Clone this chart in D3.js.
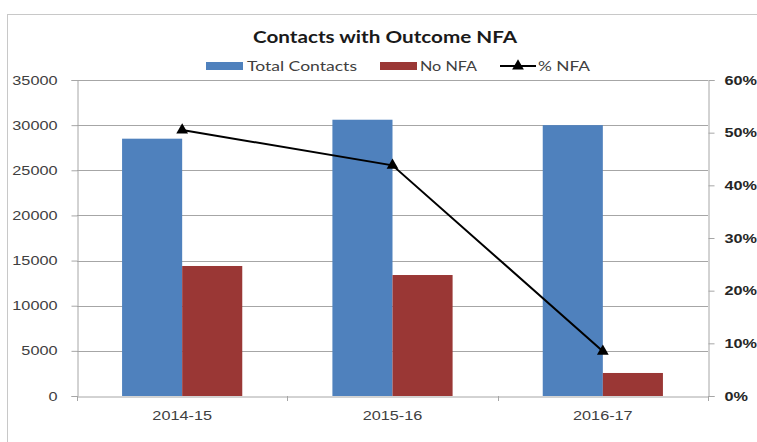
<!DOCTYPE html>
<html>
<head>
<meta charset="utf-8">
<script src="https://cdn.jsdelivr.net/npm/d3@7/dist/d3.min.js"></script>
<style>
  html, body { margin: 0; padding: 0; background: #fff; }
  svg { display: block; font-family: Lato, "Open Sans", sans-serif; }
</style>
</head>
<body>
<svg id="chart" width="757" height="442"></svg>
<script>
// Contacts per year, with those closed as No Further Action
const years = ["2014-15", "2015-16", "2016-17"];
const totalContacts = [28500, 30600, 30000];
const noNFA = [14400, 13400, 2550];
const pctNFA = [0.505, 0.438, 0.085];
const leftTicks = [0, 5000, 10000, 15000, 20000, 25000, 30000, 35000];
const rightTicks = [0, 0.1, 0.2, 0.3, 0.4, 0.5, 0.6];

const colors = { total: "#4f81bd", nfa: "#9a3735", line: "#000" };
const WIDE = 1.3; // horizontal widening applied to labels

// widen each text horizontally while keeping its anchor point
function widen(sel, k) {
  sel.each(function () {
    const w = this.getComputedTextLength();
    d3.select(this).attr("textLength", w * k).attr("lengthAdjust", "spacingAndGlyphs");
  });
}

const svg = d3.select("#chart");
const plot = { left: 77, right: 708, top: 80, bottom: 396 };

// outer chart frame
svg.append("rect")
  .attr("x", 7.5).attr("y", 14.5)
  .attr("width", 760).attr("height", 440)
  .attr("fill", "none").attr("stroke", "#c8c8c8").attr("stroke-width", 1);

const x = d3.scaleBand()
  .domain(years)
  .range([plot.left, plot.right])
  .paddingInner(90 / 210)
  .paddingOuter(45 / 210);

const xSeries = d3.scaleBand()
  .domain(["total", "nfa"])
  .range([0, x.bandwidth()]);

const yLeft = d3.scaleLinear().domain([0, 35000]).range([plot.bottom, plot.top]);
const yRight = d3.scaleLinear().domain([0, 0.6]).range([plot.bottom, plot.top]);

// horizontal gridlines
svg.append("g")
  .selectAll("line")
  .data(leftTicks.filter(d => d > 0))
  .join("line")
  .attr("x1", plot.left).attr("x2", plot.right)
  .attr("y1", d => Math.round(yLeft(d)) + 0.5)
  .attr("y2", d => Math.round(yLeft(d)) + 0.5)
  .attr("stroke", "#a6a6a6").attr("stroke-width", 1);

// left axis
const gL = svg.append("g")
  .attr("transform", `translate(${plot.left + 0.5},0)`)
  .call(d3.axisLeft(yLeft).tickValues(leftTicks).tickSize(6).tickPadding(14).tickFormat(d3.format("d")));
gL.select(".domain").attr("stroke", "#a6a6a6");
gL.selectAll(".tick line").attr("stroke", "#a6a6a6");
gL.selectAll(".tick text").attr("fill", "#404040").style("font-size", "12.5px").call(widen, WIDE);

// right axis
const gR = svg.append("g")
  .attr("transform", `translate(${plot.right + 0.5},0)`)
  .call(d3.axisRight(yRight).tickValues(rightTicks).tickSize(6).tickPadding(10).tickFormat(d3.format(".0%")));
gR.select(".domain").attr("stroke", "#a6a6a6");
gR.selectAll(".tick line").attr("stroke", "#a6a6a6");
gR.selectAll(".tick text").attr("fill", "#262626").style("font-size", "12.5px").style("font-weight", "bold").call(widen, WIDE);

// bars
const groups = svg.append("g")
  .selectAll("g")
  .data(years.map((y, i) => ({ year: y, total: totalContacts[i], nfa: noNFA[i] })))
  .join("g")
  .attr("transform", d => `translate(${x(d.year)},0)`);

groups.selectAll("rect")
  .data(d => [{ key: "total", v: d.total }, { key: "nfa", v: d.nfa }])
  .join("rect")
  .attr("x", d => xSeries(d.key))
  .attr("width", xSeries.bandwidth())
  .attr("y", d => yLeft(d.v))
  .attr("height", d => yLeft(0) - yLeft(d.v))
  .attr("fill", d => colors[d.key]);

// category axis
const gX = svg.append("g")
  .attr("transform", `translate(0,${plot.bottom + 0.5})`)
  .call(d3.axisBottom(x).tickSize(0).tickPadding(15));
gX.select(".domain").attr("stroke", "#a6a6a6");
gX.selectAll(".tick text").attr("fill", "#404040").style("font-size", "12.5px").call(widen, WIDE);
// boundary ticks between categories
const step = x.step();
svg.append("g").selectAll("line")
  .data(d3.range(0, years.length + 1))
  .join("line")
  .attr("x1", i => Math.round(plot.left + i * step) + 0.5)
  .attr("x2", i => Math.round(plot.left + i * step) + 0.5)
  .attr("y1", plot.bottom).attr("y2", plot.bottom + 5)
  .attr("stroke", "#a6a6a6");

// % NFA line
const cx = (d, i) => x(years[i]) + x.bandwidth() / 2;
svg.append("path")
  .datum(pctNFA)
  .attr("d", d3.line().x(cx).y(d => yRight(d)))
  .attr("fill", "none").attr("stroke", colors.line).attr("stroke-width", 2);

const tri = d3.symbol().type(d3.symbolTriangle).size(60);
svg.append("g").selectAll("path")
  .data(pctNFA)
  .join("path")
  .attr("d", tri)
  .attr("transform", (d, i) => `translate(${cx(d, i)},${yRight(d)})`)
  .attr("fill", colors.line);

// title
svg.append("text")
  .attr("x", 385).attr("y", 43)
  .attr("text-anchor", "middle")
  .style("font-size", "17.5px").style("font-weight", "bold")
  .attr("fill", "#1a1a1a")
  .attr("textLength", 264).attr("lengthAdjust", "spacingAndGlyphs")
  .text("Contacts with Outcome NFA");

// legend
const legend = svg.append("g").attr("transform", "translate(0,66)");
legend.append("rect").attr("x", 206).attr("y", -4).attr("width", 37).attr("height", 8).attr("fill", colors.total);
legend.append("text").attr("x", 247).attr("y", 5).style("font-size", "14px").attr("fill", "#404040")
  .attr("textLength", 110).attr("lengthAdjust", "spacingAndGlyphs").text("Total Contacts");
legend.append("rect").attr("x", 380).attr("y", -4).attr("width", 37).attr("height", 8).attr("fill", colors.nfa);
legend.append("text").attr("x", 420).attr("y", 5).style("font-size", "14px").attr("fill", "#404040")
  .attr("textLength", 57).attr("lengthAdjust", "spacingAndGlyphs").text("No NFA");
legend.append("line").attr("x1", 500).attr("x2", 536).attr("y1", 0).attr("y2", 0).attr("stroke", colors.line).attr("stroke-width", 2);
legend.append("path").attr("d", tri).attr("transform", "translate(518,0)").attr("fill", colors.line);
legend.append("text").attr("x", 538).attr("y", 5).style("font-size", "14px").attr("fill", "#404040")
  .attr("textLength", 52).attr("lengthAdjust", "spacingAndGlyphs").text("% NFA");
</script>
</body>
</html>
